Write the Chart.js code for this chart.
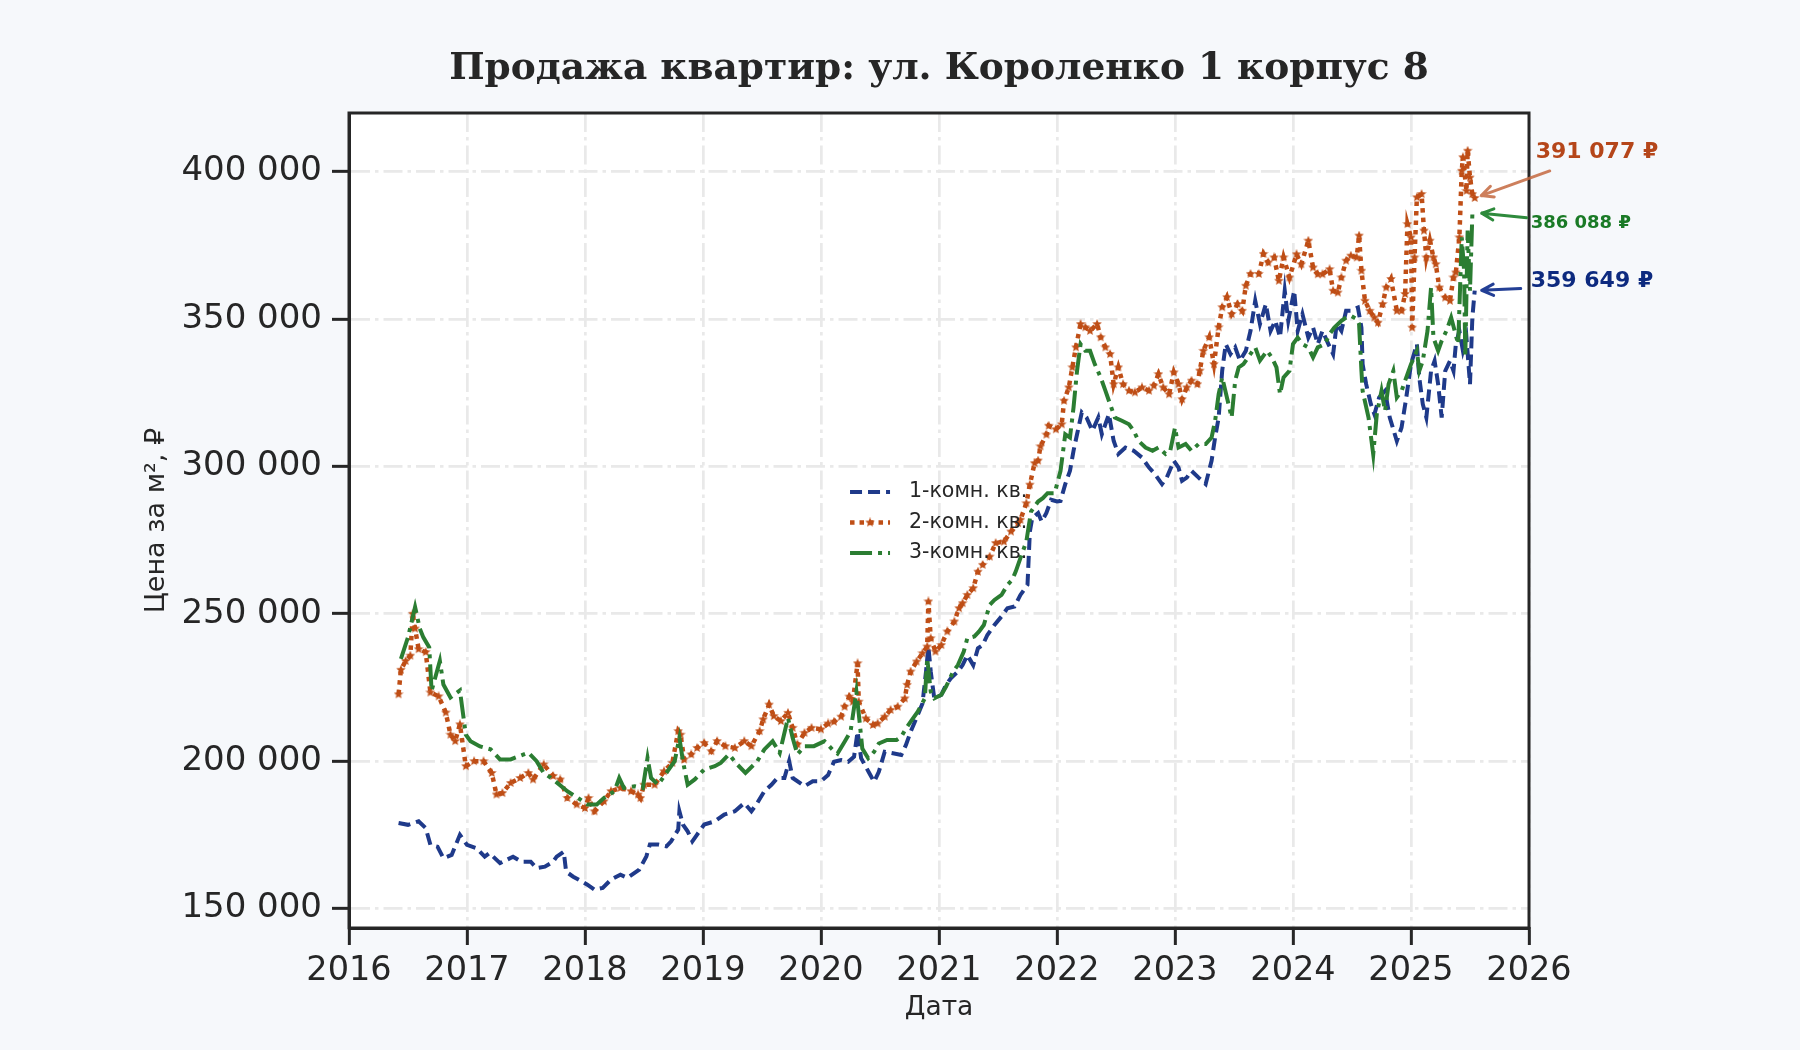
<!DOCTYPE html>
<html lang="ru">
<head>
<meta charset="utf-8">
<title>Продажа квартир: ул. Короленко 1 корпус 8</title>
<script src="https://cdn.jsdelivr.net/npm/chart.js@4.4.1/dist/chart.umd.min.js"></script>
<style>
  html, body { margin: 0; padding: 0; background: #f6f8fb; }
  #wrap { width: 1800px; height: 1050px; }
</style>
</head>
<body>
<div id="wrap"><canvas id="priceChart" width="1800" height="1050"></canvas></div>
<script>
// Values: date as decimal year, price per m² in ₽
const oneRoomDates = [
  2016.42, 2016.50, 2016.59, 2016.65, 2016.69, 2016.75, 2016.80, 2016.87, 2016.94, 2017.00,
  2017.08, 2017.15, 2017.19, 2017.28, 2017.39, 2017.46, 2017.54, 2017.59, 2017.66, 2017.73,
  2017.76, 2017.82, 2017.84, 2017.90, 2017.96, 2018.02, 2018.08, 2018.15, 2018.22, 2018.30,
  2018.36, 2018.46, 2018.52, 2018.55, 2018.62, 2018.69, 2018.73, 2018.79, 2018.80, 2018.83,
  2018.87, 2018.91, 2018.95, 2019.01, 2019.10, 2019.18, 2019.27, 2019.35, 2019.41, 2019.46,
  2019.52, 2019.58, 2019.63, 2019.69, 2019.73, 2019.76, 2019.86, 2019.93, 2020.00, 2020.06,
  2020.11, 2020.17, 2020.23, 2020.28, 2020.31, 2020.34, 2020.41, 2020.45, 2020.49, 2020.54,
  2020.62, 2020.68, 2020.72, 2020.76, 2020.82, 2020.86, 2020.89, 2020.91, 2020.93, 2020.96,
  2021.02, 2021.06, 2021.10, 2021.16, 2021.20, 2021.24, 2021.29, 2021.33, 2021.37, 2021.41,
  2021.47, 2021.53, 2021.58, 2021.64, 2021.69, 2021.75, 2021.77, 2021.79, 2021.84, 2021.87,
  2021.91, 2021.95, 2022.00, 2022.03, 2022.07, 2022.11, 2022.14, 2022.17, 2022.21, 2022.25,
  2022.30, 2022.35, 2022.38, 2022.44, 2022.48, 2022.52, 2022.58, 2022.65, 2022.72, 2022.78,
  2022.83, 2022.89, 2022.93, 2022.99, 2023.03, 2023.06, 2023.10, 2023.14, 2023.20, 2023.26,
  2023.31, 2023.34, 2023.37, 2023.40, 2023.43, 2023.47, 2023.51, 2023.55, 2023.60, 2023.64,
  2023.68, 2023.72, 2023.77, 2023.81, 2023.85, 2023.89, 2023.93, 2023.96, 2024.01, 2024.04,
  2024.08, 2024.13, 2024.17, 2024.21, 2024.25, 2024.30, 2024.34, 2024.37, 2024.41, 2024.45,
  2024.49, 2024.55, 2024.58, 2024.59, 2024.62, 2024.66, 2024.69, 2024.73, 2024.78, 2024.82,
  2024.88, 2024.92, 2024.96, 2025.00, 2025.05, 2025.07, 2025.10, 2025.13, 2025.17, 2025.20,
  2025.23, 2025.26, 2025.29, 2025.33, 2025.36, 2025.38, 2025.41, 2025.44, 2025.47, 2025.50,
  2025.52, 2025.54
];
const oneRoomPrices = [
  179000, 178400, 179600, 177300, 171600, 171000, 167100, 168200, 175000, 171600,
  170500, 167600, 168800, 165400, 167600, 165900, 165900, 163700, 164200, 165900,
  167600, 169300, 162500, 160800, 159500, 158100, 156400, 157000, 159800, 161500,
  160400, 163200, 167700, 171700, 171700, 171100, 172800, 176800, 183000, 178500,
  176200, 172800, 175100, 178500, 179600, 181900, 183000, 185800, 183000, 185800,
  189800, 192000, 194300, 194300, 200000, 194300, 191500, 193200, 193200, 195300,
  199800, 200400, 199800, 201500, 210000, 201000, 195900, 193000, 196400, 203200,
  202600, 202100, 205500, 210000, 215700, 219600, 230400, 238900, 230400, 221300,
  222500, 225900, 228100, 230400, 232600, 236000, 232600, 238300, 239400, 242800,
  246200, 249100, 251900, 252500, 256400, 259800, 277900, 282500, 284200, 281300,
  284200, 288700, 288100, 288300, 294000, 298500, 305300, 310900, 318300, 316600,
  312100, 316600, 310900, 317700, 308700, 304200, 306400, 305300, 303000, 299600,
  297400, 294000, 296200, 301900, 299600, 295100, 296200, 298500, 296200, 294000,
  301900, 309800, 316600, 332500, 341500, 338100, 340400, 335900, 339200, 346000,
  356200, 348300, 355100, 346000, 349400, 343800, 359600, 349400, 359600, 346000,
  351700, 343700, 347100, 341500, 346000, 341500, 338100, 348300, 346000, 352800,
  352800, 353900, 347100, 334700, 327900, 321100, 317700, 323400, 325600, 316600,
  308600, 313200, 323400, 334700, 341500, 330200, 321100, 316600, 332400, 335800,
  327900, 316600, 332400, 335800, 332400, 341500, 346000, 339200, 343700, 327900,
  350500, 359649
];

const twoRoomDates = [
  2016.42, 2016.44, 2016.48, 2016.52, 2016.54, 2016.56, 2016.59, 2016.65, 2016.69, 2016.76,
  2016.82, 2016.86, 2016.90, 2016.94, 2016.99, 2017.06, 2017.14, 2017.21, 2017.25, 2017.30,
  2017.37, 2017.45, 2017.52, 2017.56, 2017.65, 2017.73, 2017.79, 2017.85, 2017.93, 2018.00,
  2018.03, 2018.08, 2018.16, 2018.22, 2018.30, 2018.39, 2018.45, 2018.47, 2018.50, 2018.59,
  2018.67, 2018.74, 2018.79, 2018.81, 2018.84, 2018.90, 2018.95, 2019.01, 2019.07, 2019.12,
  2019.19, 2019.27, 2019.35, 2019.41, 2019.48, 2019.51, 2019.56, 2019.60, 2019.66, 2019.72,
  2019.76, 2019.80, 2019.86, 2019.92, 2020.00, 2020.06, 2020.11, 2020.17, 2020.20, 2020.24,
  2020.27, 2020.31, 2020.32, 2020.38, 2020.44, 2020.48, 2020.54, 2020.59, 2020.65, 2020.71,
  2020.73, 2020.76, 2020.81, 2020.86, 2020.90, 2020.91, 2020.93, 2020.97, 2021.02, 2021.07,
  2021.13, 2021.17, 2021.20, 2021.24, 2021.29, 2021.33, 2021.37, 2021.43, 2021.48, 2021.55,
  2021.61, 2021.67, 2021.69, 2021.74, 2021.77, 2021.81, 2021.84, 2021.86, 2021.91, 2021.93,
  2021.99, 2022.04, 2022.06, 2022.10, 2022.13, 2022.16, 2022.20, 2022.24, 2022.28, 2022.34,
  2022.37, 2022.41, 2022.45, 2022.48, 2022.52, 2022.56, 2022.61, 2022.66, 2022.72, 2022.78,
  2022.82, 2022.86, 2022.90, 2022.95, 2022.99, 2023.03, 2023.06, 2023.10, 2023.14, 2023.19,
  2023.21, 2023.24, 2023.29, 2023.33, 2023.37, 2023.40, 2023.44, 2023.48, 2023.53, 2023.57,
  2023.60, 2023.64, 2023.71, 2023.75, 2023.79, 2023.84, 2023.88, 2023.92, 2023.97, 2024.03,
  2024.07, 2024.13, 2024.17, 2024.21, 2024.25, 2024.31, 2024.34, 2024.38, 2024.41, 2024.45,
  2024.49, 2024.54, 2024.56, 2024.58, 2024.61, 2024.65, 2024.69, 2024.72, 2024.76, 2024.79,
  2024.83, 2024.88, 2024.92, 2024.95, 2024.97, 2025.00, 2025.01, 2025.03, 2025.05, 2025.09,
  2025.11, 2025.13, 2025.16, 2025.19, 2025.21, 2025.24, 2025.29, 2025.33, 2025.36, 2025.38,
  2025.41, 2025.43, 2025.44, 2025.47, 2025.48, 2025.50, 2025.52, 2025.54
];
const twoRoomPrices = [
  222700, 231000, 234000, 235800, 250000, 245000, 238000, 237000, 223300, 222000,
  216500, 209000, 206800, 212500, 198300, 200000, 200000, 196000, 188700, 189200,
  192600, 194300, 196000, 193800, 198900, 195000, 193800, 187500, 185300, 184100,
  187500, 183000, 186400, 189800, 190900, 189800, 188700, 187500, 192000, 192000,
  196600, 199400, 210200, 209000, 200600, 202300, 204500, 206200, 203400, 206800,
  205100, 204500, 206800, 205100, 210200, 214200, 219200, 215300, 213600, 216400,
  211300, 205700, 209600, 211300, 210800, 212800, 213400, 215100, 218500, 221900,
  220200, 233200, 220200, 214500, 212300, 212800, 215100, 217400, 218500, 221300,
  225900, 230400, 233800, 236600, 238900, 254200, 241700, 237200, 239400, 244000,
  247400, 251900, 253600, 256400, 258700, 264300, 266600, 269400, 274000, 274500,
  277900, 280800, 281900, 287500, 293800, 301100, 302000, 306800, 310800, 313800,
  312600, 314300, 322300, 326800, 333600, 340400, 348300, 347200, 346000, 348300,
  343800, 340400, 338100, 327900, 333600, 327900, 325700, 325100, 326800, 325700,
  327400, 331300, 326800, 324500, 331900, 327900, 322800, 326800, 329100, 327900,
  332500, 339200, 343800, 334700, 347200, 354000, 357400, 351700, 355100, 352800,
  361300, 365300, 365300, 372100, 369200, 370900, 363000, 370900, 364100, 372000,
  368600, 376600, 367500, 365200, 365200, 366900, 359600, 359000, 364100, 369800,
  371500, 370900, 378300, 366400, 356200, 352800, 350500, 348800, 355100, 360700,
  363600, 352800, 352800, 358500, 382200, 377700, 347100, 370900, 391300, 392400,
  380000, 370900, 376600, 370900, 368600, 360700, 357300, 356200, 364100, 365800,
  377700, 400300, 404900, 393500, 407100, 398000, 392400, 391077
];

const threeRoomDates = [
  2016.44, 2016.50, 2016.56, 2016.60, 2016.63, 2016.68, 2016.70, 2016.77, 2016.80, 2016.86,
  2016.94, 2016.99, 2017.03, 2017.11, 2017.20, 2017.28, 2017.37, 2017.52, 2017.59, 2017.65,
  2017.73, 2017.85, 2017.94, 2018.02, 2018.10, 2018.16, 2018.25, 2018.29, 2018.33, 2018.42,
  2018.49, 2018.53, 2018.56, 2018.62, 2018.70, 2018.76, 2018.80, 2018.83, 2018.87, 2018.93,
  2019.01, 2019.10, 2019.15, 2019.22, 2019.29, 2019.36, 2019.46, 2019.52, 2019.59, 2019.65,
  2019.72, 2019.76, 2019.80, 2019.86, 2019.94, 2020.03, 2020.10, 2020.14, 2020.20, 2020.25,
  2020.30, 2020.33, 2020.35, 2020.40, 2020.45, 2020.49, 2020.56, 2020.64, 2020.68, 2020.72,
  2020.76, 2020.82, 2020.88, 2020.90, 2020.93, 2020.96, 2021.02, 2021.06, 2021.12, 2021.16,
  2021.21, 2021.24, 2021.30, 2021.34, 2021.38, 2021.43, 2021.47, 2021.53, 2021.58, 2021.62,
  2021.65, 2021.69, 2021.74, 2021.78, 2021.84, 2021.88, 2021.92, 2021.98, 2022.03, 2022.07,
  2022.11, 2022.14, 2022.17, 2022.20, 2022.24, 2022.28, 2022.32, 2022.37, 2022.41, 2022.45,
  2022.49, 2022.55, 2022.61, 2022.65, 2022.69, 2022.75, 2022.81, 2022.86, 2022.92, 2022.96,
  2023.00, 2023.03, 2023.09, 2023.14, 2023.20, 2023.26, 2023.31, 2023.34, 2023.37, 2023.40,
  2023.44, 2023.48, 2023.51, 2023.54, 2023.58, 2023.62, 2023.68, 2023.72, 2023.78, 2023.82,
  2023.86, 2023.89, 2023.92, 2023.97, 2024.00, 2024.04, 2024.08, 2024.13, 2024.17, 2024.21,
  2024.27, 2024.31, 2024.35, 2024.41, 2024.45, 2024.49, 2024.54, 2024.56, 2024.58, 2024.59,
  2024.64, 2024.68, 2024.71, 2024.75, 2024.78, 2024.81, 2024.85, 2024.88, 2024.92, 2024.96,
  2025.00, 2025.05, 2025.07, 2025.10, 2025.14, 2025.17, 2025.19, 2025.23, 2025.26, 2025.30,
  2025.34, 2025.37, 2025.40, 2025.43, 2025.45, 2025.46, 2025.48, 2025.50, 2025.52, 2025.54
];
const threeRoomPrices = [
  234700, 242000, 252300, 245000, 242000, 238600, 223900, 234000, 226000, 221600,
  224000, 209000, 206800, 205000, 204000, 200600, 200600, 202900, 200000, 196000,
  193800, 189800, 187500, 185300, 185300, 187500, 189800, 194300, 190900, 191500,
  190900, 201100, 194300, 192000, 196600, 200000, 207900, 200000, 192000, 193800,
  197200, 198300, 199400, 202300, 198900, 196000, 200000, 204000, 206800, 202800,
  214700, 207900, 202300, 205100, 205100, 206800, 203800, 202600, 206600, 210000,
  223600, 212300, 204300, 201000, 203200, 206000, 207200, 207200, 208300, 211100,
  213400, 216800, 221300, 234900, 223600, 221300, 222500, 225300, 230400, 232600,
  237200, 241700, 242300, 244000, 246200, 253000, 254700, 256400, 259800, 261500,
  264300, 268900, 274500, 284700, 288100, 289200, 290900, 290900, 298500, 310900,
  309800, 320000, 332500, 341500, 339200, 339200, 334700, 330200, 325700, 321100,
  316600, 315500, 314300, 312100, 308700, 306400, 305300, 306400, 304200, 305300,
  313200, 306400, 307600, 305300, 307600, 307600, 309800, 315500, 324500, 330200,
  323400, 316600, 329100, 333600, 334700, 337000, 340400, 335900, 339200, 337000,
  333600, 324500, 330200, 332400, 341500, 343700, 341500, 340400, 337000, 340400,
  341500, 344900, 347100, 349400, 350500, 351100, 350000, 348300, 332400, 325600,
  316600, 304100, 317700, 325600, 318800, 327900, 332400, 323400, 325600, 330200,
  334700, 339200, 332400, 335800, 346000, 360700, 343700, 339200, 342600, 346000,
  350500, 346000, 341500, 377700, 366400, 337000, 380000, 359600, 385600, 386088
];

const seriesLabels = ['1-комн. кв.', '2-комн. кв.', '3-комн. кв.'];
const yearTicks = [2016, 2017, 2018, 2019, 2020, 2021, 2022, 2023, 2024, 2025, 2026];
const priceTicks = [150000, 200000, 250000, 300000, 350000, 400000];

const blue = '#1f3a8a';
const orange = '#bf4e16';
const green = '#2b7d32';
const ink = '#262626';

Chart.defaults.font.family = '"DejaVu Sans", sans-serif';
Chart.defaults.color = ink;

function toPoints(dates, prices) {
  return dates.map((d, i) => ({ x: d, y: prices[i] }));
}

function spaced(v) {
  return String(Math.round(v)).replace(/\B(?=(\d{3})+(?!\d))/g, ' ');
}

// filled five-point star, like matplotlib's "*" marker
function makeStar(size, color) {
  const c = document.createElement('canvas');
  c.width = c.height = size;
  const g = c.getContext('2d');
  const r = size / 2, ri = r * 0.45;
  g.beginPath();
  for (let i = 0; i < 10; i++) {
    const a = -Math.PI / 2 + i * Math.PI / 5;
    const rr = i % 2 ? ri : r;
    g.lineTo(r + rr * Math.cos(a), r + rr * Math.sin(a));
  }
  g.closePath();
  g.fillStyle = color;
  g.fill();
  return c;
}
const starMark = makeStar(10, orange);

// plot background, frame and title
const framePlugin = {
  id: 'frame',
  beforeDraw(chart) {
    const { ctx, chartArea: a } = chart;
    ctx.save();
    ctx.fillStyle = '#f6f8fb';
    ctx.fillRect(0, 0, chart.width, chart.height);
    ctx.fillStyle = '#ffffff';
    ctx.fillRect(a.left, a.top, a.right - a.left, a.bottom - a.top);
    ctx.restore();
  },
  afterDraw(chart) {
    const { ctx, chartArea: a } = chart;
    ctx.save();
    ctx.strokeStyle = ink;
    ctx.lineWidth = 3;
    ctx.strokeRect(a.left, a.top, a.right - a.left, a.bottom - a.top);
    ctx.fillStyle = ink;
    ctx.font = 'bold 37.5px "DejaVu Serif", serif';
    ctx.textAlign = 'center';
    ctx.textBaseline = 'middle';
    ctx.fillText('Продажа квартир: ул. Короленко 1 корпус 8', (a.left + a.right) / 2, 69);
    ctx.restore();
  }
};

// legend drawn inside the plot, without a frame
const legendPlugin = {
  id: 'innerLegend',
  afterDatasetsDraw(chart) {
    const { ctx, chartArea: a } = chart;
    const x0 = a.left + 0.4246 * (a.right - a.left);
    let y = a.top + 0.465 * (a.bottom - a.top);
    ctx.save();
    chart.data.datasets.forEach((ds) => {
      ctx.strokeStyle = ds.borderColor;
      ctx.lineWidth = ds.borderWidth;
      ctx.setLineDash(ds.borderDash);
      ctx.beginPath();
      ctx.moveTo(x0, y);
      ctx.lineTo(x0 + 40, y);
      ctx.stroke();
      if (ds.pointRadius) ctx.drawImage(starMark, x0 + 20 - 5, y - 5);
      ctx.setLineDash([]);
      ctx.fillStyle = ink;
      ctx.font = '20.5px "DejaVu Sans"';
      ctx.textBaseline = 'middle';
      ctx.fillText(ds.label, x0 + 59, y);
      y += 30.5;
    });
    ctx.restore();
  }
};

// last value labels with arrows pointing at the final point of each series
const endLabels = [
  { ds: 1, color: '#b5461a', arrow: 'rgba(196,104,64,0.85)', size: 22, text: [61, -46], tail: [75, -27] },
  { ds: 2, color: '#1a7a26', arrow: '#2e8a3c', size: 18, text: [56, 11], tail: [52, 5] },
  { ds: 0, color: '#0d2a7f', arrow: '#233f95', size: 22, text: [56, -9], tail: [46, -2] }
];
const endLabelPlugin = {
  id: 'endLabels',
  afterDraw(chart) {
    const { ctx } = chart;
    ctx.save();
    endLabels.forEach((l) => {
      const meta = chart.getDatasetMeta(l.ds);
      const pt = meta.data[meta.data.length - 1];
      const values = chart.data.datasets[l.ds].data;
      const last = values[values.length - 1].y;
      const tx = pt.x + l.tail[0], ty = pt.y + l.tail[1];
      const len = Math.hypot(tx - pt.x, ty - pt.y);
      const ux = (tx - pt.x) / len, uy = (ty - pt.y) / len;
      const hx = pt.x + ux * 7, hy = pt.y + uy * 7;
      ctx.strokeStyle = l.arrow;
      ctx.lineWidth = 3;
      ctx.lineCap = 'round';
      ctx.beginPath();
      ctx.moveTo(tx, ty);
      ctx.lineTo(hx, hy);
      const ang = Math.atan2(uy, ux);
      [0.45, -0.45].forEach((d) => {
        ctx.moveTo(hx, hy);
        ctx.lineTo(hx + 13 * Math.cos(ang + d), hy + 13 * Math.sin(ang + d));
      });
      ctx.stroke();
      ctx.fillStyle = l.color;
      ctx.font = 'bold ' + l.size + 'px "DejaVu Sans"';
      ctx.textAlign = 'left';
      ctx.textBaseline = 'middle';
      ctx.fillText(spaced(last) + ' ₽', pt.x + l.text[0], pt.y + l.text[1]);
    });
    ctx.restore();
  }
};

const gridStyle = {
  color: '#e9e9e9',
  lineWidth: 2.7,
  tickColor: ink,
  tickWidth: 3,
  tickLength: 17,
  tickBorderDash: []
};
const gridDash = [19, 5, 3.5, 5];

new Chart(document.getElementById('priceChart').getContext('2d'), {
  type: 'line',
  data: {
    datasets: [
      {
        label: seriesLabels[0],
        data: toPoints(oneRoomDates, oneRoomPrices),
        borderColor: blue,
        borderWidth: 4,
        borderDash: [12, 6],
        pointRadius: 0,
        order: 2
      },
      {
        label: seriesLabels[1],
        data: toPoints(twoRoomDates, twoRoomPrices),
        borderColor: orange,
        borderWidth: 4.5,
        borderDash: [4.5, 5],
        pointStyle: starMark,
        pointRadius: 5,
        order: 1
      },
      {
        label: seriesLabels[2],
        data: toPoints(threeRoomDates, threeRoomPrices),
        borderColor: green,
        borderWidth: 4,
        borderDash: [22, 6, 4, 6],
        pointRadius: 0,
        order: 0
      }
    ]
  },
  options: {
    responsive: false,
    animation: false,
    devicePixelRatio: 1,
    tension: 0,
    layout: { padding: { top: 113, right: 271, left: 0, bottom: 0 } },
    plugins: {
      legend: { display: false },
      title: { display: false },
      tooltip: { enabled: false }
    },
    scales: {
      x: {
        type: 'linear',
        min: 2016,
        max: 2026,
        afterBuildTicks: (scale) => { scale.ticks = yearTicks.map((v) => ({ value: v })); },
        afterFit: (scale) => { scale.height = 122; },
        grid: gridStyle,
        border: { display: true, color: ink, width: 3, dash: gridDash },
        ticks: {
          font: { size: 33.5 },
          color: ink,
          padding: 6,
          maxRotation: 0,
          callback: (v) => String(v)
        },
        title: {
          display: true,
          text: 'Дата',
          font: { size: 26.5 },
          color: ink,
          padding: { top: 0, bottom: 26 }
        }
      },
      y: {
        min: 143400,
        max: 419900,
        afterBuildTicks: (scale) => { scale.ticks = priceTicks.map((v) => ({ value: v })); },
        afterFit: (scale) => { scale.width = 349; },
        grid: gridStyle,
        border: { display: true, color: ink, width: 3, dash: gridDash },
        ticks: {
          font: { size: 34 },
          color: ink,
          padding: 10,
          callback: (v) => spaced(v)
        },
        title: {
          display: true,
          text: 'Цена за м², ₽',
          font: { size: 27 },
          color: ink,
          padding: { top: 141, bottom: 0 }
        }
      }
    }
  },
  plugins: [framePlugin, legendPlugin, endLabelPlugin]
});
</script>
</body>
</html>
